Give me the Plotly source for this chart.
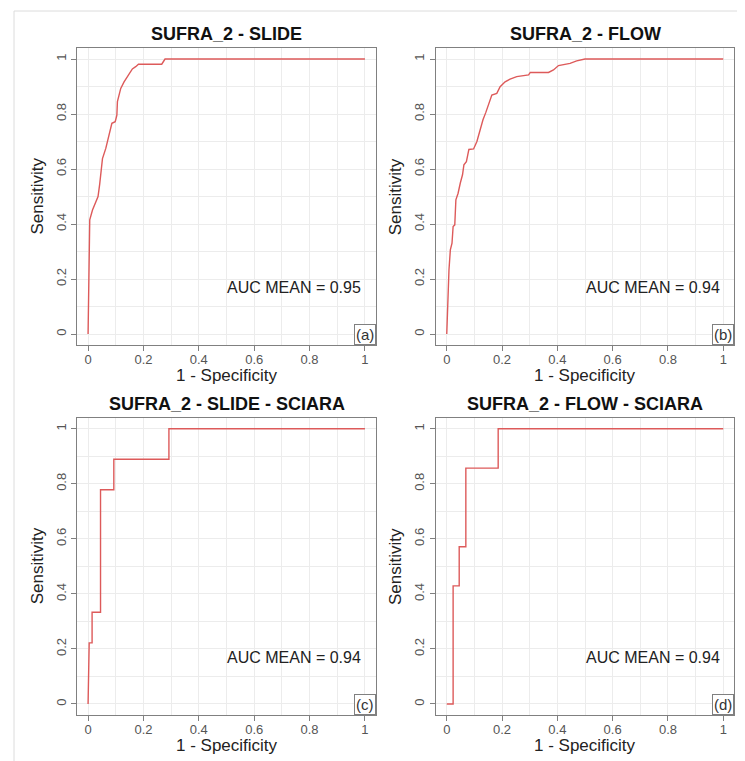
import plotly.graph_objects as go

# ---- data ----
titles = ["SUFRA_2 - SLIDE", "SUFRA_2 - FLOW", "SUFRA_2 - SLIDE - SCIARA", "SUFRA_2 - FLOW - SCIARA"]
auc_labels = ["AUC MEAN = 0.95", "AUC MEAN = 0.94", "AUC MEAN = 0.94", "AUC MEAN = 0.94"]
corner_labels = ["(a)", "(b)", "(c)", "(d)"]

fpr_a = [0, 0.003, 0.006, 0.016, 0.028, 0.036, 0.042, 0.046, 0.052, 0.064, 0.076, 0.086, 0.098,
         0.104, 0.106, 0.118, 0.130, 0.148, 0.160, 0.172, 0.182, 0.266, 0.278, 1.0]
tpr_a = [0, 0.20, 0.415, 0.451, 0.482, 0.50, 0.545, 0.59, 0.638, 0.675, 0.723, 0.766, 0.772,
         0.796, 0.845, 0.893, 0.917, 0.948, 0.964, 0.972, 0.981, 0.981, 1.0, 1.0]

fpr_b = [0, 0.004, 0.008, 0.013, 0.019, 0.023, 0.029, 0.033, 0.041, 0.049, 0.057, 0.062, 0.071,
         0.080, 0.097, 0.109, 0.120, 0.131, 0.141, 0.153, 0.163, 0.181, 0.193, 0.211, 0.229,
         0.253, 0.296, 0.302, 0.368, 0.386, 0.404, 0.446, 0.470, 0.500, 1.0]
tpr_b = [0, 0.12, 0.233, 0.306, 0.330, 0.391, 0.397, 0.488, 0.512, 0.549, 0.579, 0.615, 0.627,
         0.671, 0.673, 0.700, 0.745, 0.779, 0.805, 0.836, 0.869, 0.875, 0.899, 0.917, 0.927,
         0.936, 0.942, 0.951, 0.951, 0.960, 0.976, 0.984, 0.993, 1.0, 1.0]

fpr_c = [0, 0.004, 0.0145, 0.0145, 0.045, 0.045, 0.093, 0.093, 0.292, 0.292, 1.0]
tpr_c = [0, 0.222, 0.222, 0.333, 0.333, 0.778, 0.778, 0.889, 0.889, 1.0, 1.0]

fpr_d = [0, 0.023, 0.023, 0.045, 0.045, 0.069, 0.069, 0.186, 0.186, 1.0]
tpr_d = [0, 0, 0.429, 0.429, 0.571, 0.571, 0.857, 0.857, 1.0, 1.0]

curves = [(fpr_a, tpr_a), (fpr_b, tpr_b), (fpr_c, tpr_c), (fpr_d, tpr_d)]

tick_vals = [0, 0.2, 0.4, 0.6, 0.8, 1]
tick_text = ["0", "0.2", "0.4", "0.6", "0.8", "1"]

# ---- layout geometry (page body has an 8px margin) ----
OFF = 8
W, H = 745 - OFF, 761 - OFF


def px(v):
    return (v - OFF) / W


def py(v):
    return 1 - (v - OFF) / H


xdoms = [[px(77), px(376)], [px(435.7), px(734.3)]]
ydoms = [[py(345), py(48)], [py(715), py(417.7)]]

FONT = "Liberation Sans, Arial, sans-serif"
LINE_COLOR = "#dd5a5a"
BOX = "#808080"
GRID = "#ececec"

fig = go.Figure()
layout = dict(
    width=W, height=H,
    margin=dict(l=0, r=0, t=0, b=0),
    paper_bgcolor="white", plot_bgcolor="white",
    showlegend=False,
    font=dict(family=FONT, color="#222"),
)
annotations = []
shapes = []

for i, (fx, ty) in enumerate(curves):
    n = i + 1
    xa = "x" if n == 1 else f"x{n}"
    ya = "y" if n == 1 else f"y{n}"
    col = i % 2
    row = i // 2
    fig.add_trace(go.Scatter(x=fx, y=ty, mode="lines", xaxis=xa, yaxis=ya,
                             line=dict(color=LINE_COLOR, width=1.4), hoverinfo="skip"))
    axcommon = dict(
        range=[-0.04, 1.04], showline=True, linecolor=BOX, linewidth=1.2, mirror=True,
        ticks="outside", ticklen=5, tickcolor=BOX, tickwidth=1,
        tickvals=tick_vals, ticktext=tick_text,
        tickfont=dict(family=FONT, size=13, color="#555"),
        showgrid=True, gridcolor=GRID, gridwidth=1,
        minor=dict(tickvals=[0.1, 0.3, 0.5, 0.7, 0.9], showgrid=True, gridcolor=GRID, gridwidth=1, ticks=""),
        zeroline=False, fixedrange=True,
    )
    layout["xaxis" if n == 1 else f"xaxis{n}"] = dict(axcommon, domain=xdoms[col], anchor=ya,
                                                      ticklabelstandoff=-3)
    layout["yaxis" if n == 1 else f"yaxis{n}"] = dict(axcommon, domain=ydoms[row], anchor=xa, tickangle=-90)

    xd = f"{xa} domain"
    yd = f"{ya} domain"
    # panel title
    annotations.append(dict(text=f"<b>{titles[i]}</b>", xref=xd, yref=yd, x=0.5, y=1 + 14 / 297,
                            xanchor="center", yanchor="middle", showarrow=False,
                            font=dict(family=FONT, size=18, color="#111")))
    # axis titles
    annotations.append(dict(text="1 - Specificity", xref=xd, yref=yd, x=0.5, y=-30 / 297,
                            xanchor="center", yanchor="middle", showarrow=False,
                            font=dict(family=FONT, size=17, color="#222")))
    annotations.append(dict(text="Sensitivity", xref=xd, yref=yd, x=-40 / 299, y=0.5,
                            xanchor="center", yanchor="middle", textangle=-90, showarrow=False,
                            font=dict(family=FONT, size=17, color="#222")))
    # AUC text
    annotations.append(dict(text=auc_labels[i], xref=xa, yref=ya, x=0.745, y=0.17,
                            xanchor="center", yanchor="middle", showarrow=False,
                            font=dict(family=FONT, size=16, color="#222")))
    # corner label box
    annotations.append(dict(text=corner_labels[i], xref=xd, yref=yd, x=1, y=0,
                            xanchor="right", yanchor="bottom", showarrow=False,
                            bordercolor=BOX, borderwidth=1, borderpad=1, bgcolor="white",
                            font=dict(family=FONT, size=15, color="#333")))

# outer faint frame of the picture
shapes.append(dict(type="line", xref="paper", yref="paper", x0=px(14), x1=1, y0=py(11), y1=py(11),
                   line=dict(color="#dcdcdc", width=1)))
shapes.append(dict(type="line", xref="paper", yref="paper", x0=px(14), x1=px(14), y0=0, y1=py(11),
                   line=dict(color="#dcdcdc", width=1)))

layout["annotations"] = annotations
layout["shapes"] = shapes
fig.update_layout(**layout)
fig.write_html("out.html")
